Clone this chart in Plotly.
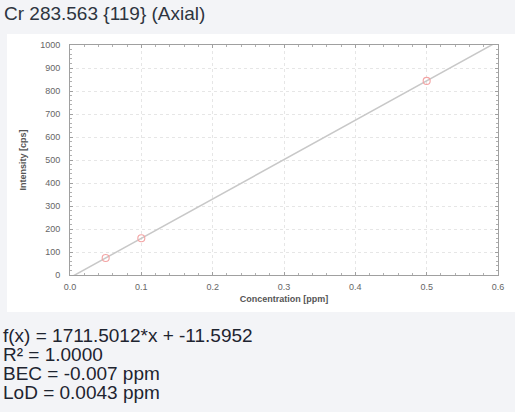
import plotly.graph_objects as go

# Data
conc = [0.05, 0.1, 0.5]
intensity = [74, 160, 844]
slope = 1711.5012
intercept = -11.5952
fit_x = [0.0, 0.6]
fit_y = [slope * x + intercept for x in fit_x]

title_text = "Cr 283.563 {119} (Axial)"
info_lines = [
    "f(x) = 1711.5012*x + -11.5952",
    "R² = 1.0000",
    "BEC = -0.007 ppm",
    "LoD = 0.0043 ppm",
]

W, H = 515, 412
L, R, T, B = 70, 17, 45, 137
pw, ph = W - L - R, H - T - B

def px(x):
    return (x - L) / pw

def py(y):
    return (H - B - y) / ph

FONT = "Liberation Sans, Arial, sans-serif"

fig = go.Figure()
fig.add_trace(go.Scatter(x=fit_x, y=fit_y, mode="lines",
                         line=dict(color="#c8c8c8", width=1.5),
                         hoverinfo="skip", cliponaxis=True))
fig.add_trace(go.Scatter(x=conc, y=intensity, mode="markers",
                         marker=dict(symbol="circle-open", size=7,
                                     color="#f3a3a3", line=dict(width=1.1))))

axis_common = dict(
    showline=True, linecolor="#a0a0a0", linewidth=1, mirror="ticks",
    ticks="inside", ticklen=3, tickcolor="#a0a0a0",
    showgrid=True, gridcolor="#e6e6e6", griddash="dot", gridwidth=1,
    zeroline=False, automargin=False,
    tickfont=dict(family=FONT, size=9, color="#666"),
)

fig.update_xaxes(range=[0, 0.6], dtick=0.1, tickformat=".1f", ticklabelstandoff=3,
                 minor=dict(dtick=0.02, ticks="inside", ticklen=2, tickcolor="#b0b0b0", showgrid=False),
                 title=dict(text="<b>Concentration [ppm]</b>", standoff=4,
                            font=dict(family=FONT, size=9, color="#555")),
                 **axis_common)
fig.update_yaxes(range=[0, 1000], dtick=100, ticklabelstandoff=7,
                 minor=dict(dtick=20, ticks="inside", ticklen=2, tickcolor="#b0b0b0", showgrid=False),
                 title=dict(text="<b>Intensity [cps]</b>", standoff=12,
                            font=dict(family=FONT, size=9, color="#555")),
                 **axis_common)

shapes = [dict(type="rect", xref="paper", yref="paper",
               x0=px(7), x1=px(W + 5), y0=py(312), y1=py(34),
               fillcolor="white", line=dict(width=0), layer="below")]

annotations = [dict(text=title_text, xref="paper", yref="paper",
                    x=px(2), y=py(14), xanchor="left", yanchor="middle",
                    showarrow=False,
                    font=dict(family=FONT, size=19, color="#2e3440"))]
for i, line in enumerate(info_lines):
    annotations.append(dict(text=line, xref="paper", yref="paper",
                            x=px(1), y=py(335 + i * 19.3), xanchor="left", yanchor="middle",
                            showarrow=False,
                            font=dict(family=FONT, size=19, color="#1e2430")))

fig.update_layout(
    width=W, height=H,
    margin=dict(l=L, r=R, t=T, b=B),
    paper_bgcolor="#f3f4f7", plot_bgcolor="white",
    showlegend=False,
    shapes=shapes, annotations=annotations,
)

fig.write_html("out.html", config={"displayModeBar": False},
               post_script="document.body.style.margin='0px';document.body.style.overflow='hidden';")
